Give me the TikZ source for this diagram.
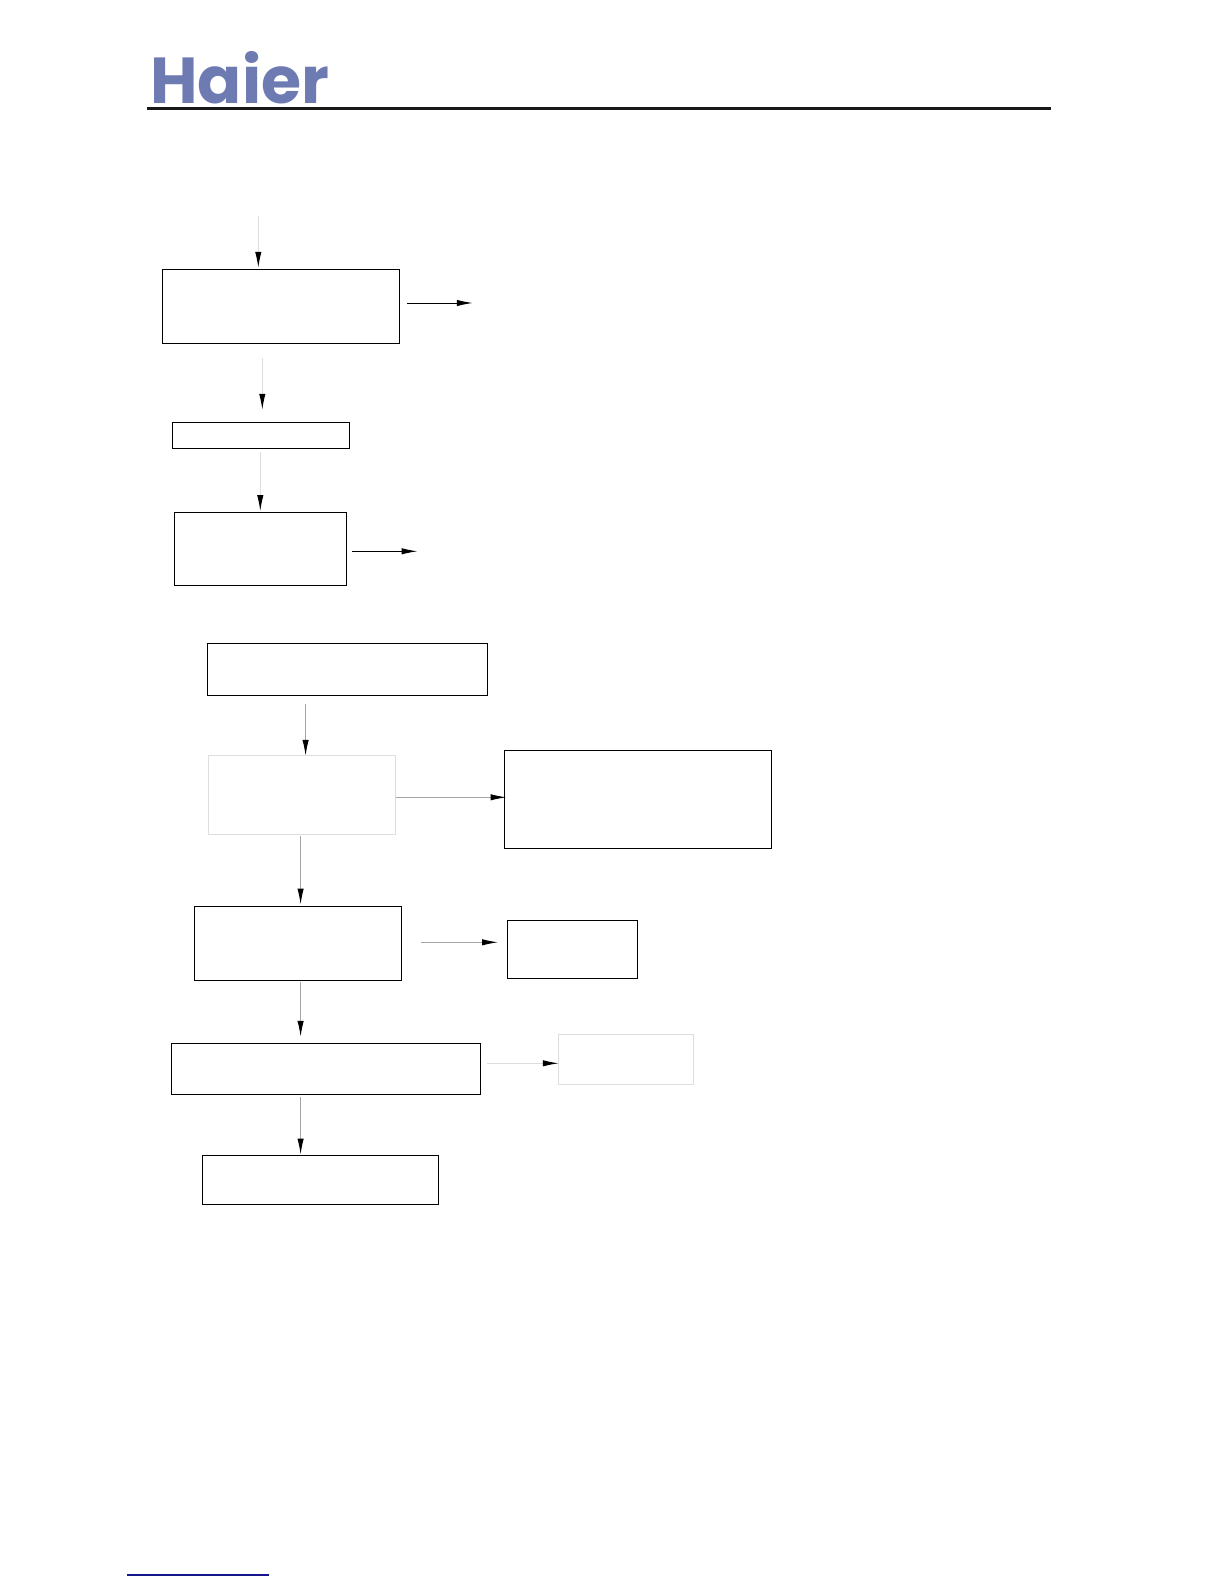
\documentclass[tikz,border=0pt]{standalone}
\usepackage{fontspec}
\usetikzlibrary{arrows.meta}
\newfontfamily\logofont{Poppins}
\definecolor{logoblue}{RGB}{110,122,178}
\definecolor{linkblue}{RGB}{20,20,140}
\definecolor{palegray}{RGB}{222,222,222}
\definecolor{midgray}{RGB}{165,165,165}
\tikzset{
  box/.style={draw=black, line width=0.7pt, inner sep=0pt, outer sep=0pt},
  palebox/.style={box, draw=palegray},
  flow/.style={line width=0.55pt, shorten >=-1pt, -{Latex[length=9pt, width=3.6pt, color=black]}},
}
\begin{document}
\begin{tikzpicture}[x=0.02cm, y=-0.02cm]
  \useasboundingbox (0,0) rectangle (1224,1584);
  % header
  \node [anchor=base west, inner sep=0pt, text=logoblue, font=\logofont\bfseries\fontsize{37}{37}\selectfont] (logo) at (150,103.3) {Haier};
  \coordinate (rule-l) at (147.3,108.3);
  \coordinate (rule-r) at (1051,108.3);
  \draw [solid, line width=1.7pt, color=black!90] (rule-l) to (rule-r);
  % top group
  \node [box, minimum width=4.748cm, minimum height=1.48cm] (boxA) at (281,306.3) {};
  \node [box, minimum width=3.54cm, minimum height=0.52cm] (boxB) at (260.8,435.3) {};
  \node [box, minimum width=3.44cm, minimum height=1.46cm] (boxC) at (260.3,548.8) {};
  % lower group
  \node [box, minimum width=5.61cm, minimum height=1.04cm] (boxD) at (347.45,669.3) {};
  \node [palebox, minimum width=3.742cm, minimum height=1.572cm] (boxE) at (302,795) {};
  \node [box, minimum width=5.342cm, minimum height=1.968cm] (boxF) at (638.2,799.5) {};
  \node [box, minimum width=4.148cm, minimum height=1.488cm] (boxG) at (297.9,943.5) {};
  \node [box, minimum width=2.61cm, minimum height=1.168cm] (boxH) at (572.5,949.5) {};
  \node [box, minimum width=6.184cm, minimum height=1.028cm] (boxI) at (326.1,1069) {};
  \node [palebox, minimum width=2.706cm, minimum height=1cm] (boxJ) at (626.15,1059.3) {};
  \node [box, minimum width=4.712cm, minimum height=0.988cm] (boxK) at (320.5,1180) {};
  % free ends of the arrows
  \coordinate (in-s) at (258.3,216);
  \coordinate (in-e) at (258.3,266);
  \coordinate (ab-s) at (262.3,358);
  \coordinate (ab-e) at (262.3,408);
  \coordinate (bc-s) at (260.3,451.7);
  \coordinate (bc-e) at (260.3,509.3);
  \coordinate (aout-s) at (407,303);
  \coordinate (aout-e) at (471,303);
  \coordinate (cout-s) at (351.7,551.3);
  \coordinate (cout-e) at (415.7,551.3);
  \coordinate (de-s) at (305.6,704);
  \coordinate (de-e) at (305.6,754);
  \coordinate (ef) at (0,797.3);
  \coordinate (eg-s) at (300.6,836);
  \coordinate (eg-e) at (300.6,902.7);
  \coordinate (gh-s) at (421.2,942.3);
  \coordinate (gh-e) at (496.2,942.3);
  \coordinate (gi-s) at (300.6,982.3);
  \coordinate (gi-e) at (300.6,1035);
  \coordinate (ij-s) at (486.8,1063.3);
  \coordinate (ij-e) at (557,1063.3);
  \coordinate (ik-s) at (300.6,1097);
  \coordinate (ik-e) at (300.6,1152.7);
  % arrows
  \draw [flow, color=palegray] (in-s) to (in-e);
  \draw [flow, color=palegray] (ab-s) to (ab-e);
  \draw [flow, color=palegray] (bc-s) to (bc-e);
  \draw [flow, color=black] (aout-s) to (aout-e);
  \draw [flow, color=black] (cout-s) to (cout-e);
  \draw [flow, color=midgray] (de-s) to (de-e);
  \draw [flow, color=midgray] (boxE.east |- ef) to (boxF.west |- ef);
  \draw [flow, color=midgray] (eg-s) to (eg-e);
  \draw [flow, color=midgray] (gh-s) to (gh-e);
  \draw [flow, color=midgray] (gi-s) to (gi-e);
  \draw [flow, color=palegray] (ij-s) to (ij-e);
  \draw [flow, color=midgray] (ik-s) to (ik-e);
  % footer
  \coordinate (foot-l) at (127.3,1575);
  \coordinate (foot-r) at (269,1575);
  \draw [solid, line width=0.7pt, color=linkblue] (foot-l) to (foot-r);
\end{tikzpicture}
\end{document}
